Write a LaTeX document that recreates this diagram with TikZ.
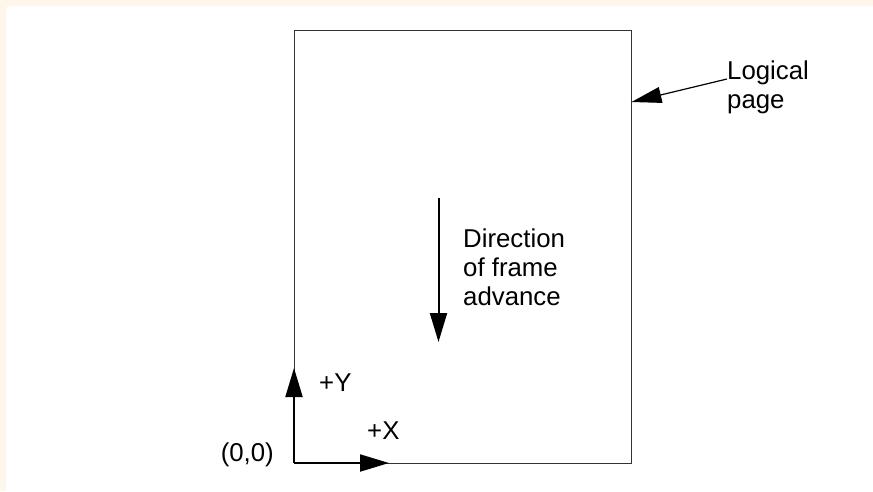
\documentclass[tikz,border=0pt]{standalone}
\usepackage{fontspec}
\setmainfont{Liberation Sans}
\usepackage{xcolor}
\usepackage{tikz}
\usetikzlibrary{positioning,arrows.meta,calc}
\definecolor{cream100}{HTML}{FEF6EA}
\definecolor{ink900}{HTML}{000000}
\definecolor{ink700}{HTML}{333333}
\tikzset{
  every node/.style={font=\fontsize{25.8}{28.8}\selectfont},
  pagebox/.style={
    rectangle, draw=ink700, line width=0.9pt,
    minimum width=337pt, minimum height=433pt,
    inner sep=0pt, outer sep=0pt
  },
  caption/.style={
    inner sep=0pt, align=left, text=ink900
  },
  axis/.style={
    -{Triangle[length=29pt,width=17pt]},
    line width=2pt, draw=ink900
  },
  pointer/.style={
    -{Triangle[length=30pt,width=16pt]},
    line width=1.2pt, draw=ink900
  },
}
\begin{document}
\begin{tikzpicture}[x=1pt,y=-1pt]
  \useasboundingbox (0,0) rectangle (873,491);
  \fill[cream100] (0,0) rectangle (873,491);
  \fill[white, rounded corners=3pt] (6,6) rectangle (885,500);
  \node[pagebox] (page) at (462.5,246.5) {};
  \coordinate (origin) at (page.south west);
  \coordinate (ytip) at ($(origin)+(0,-95)$);
  \coordinate (xtip) at ($(origin)+(95,0)$);
  \draw[axis] (origin) -- (ytip);
  \draw[axis] (origin) -- (xtip);
  \node[caption, anchor=base west] (ylabel) at (319,391) {+Y};
  \node[caption, anchor=base west] (xlabel) at (367,439) {+X};
  \node[caption, anchor=base east] (zero) at (274,461) {(0,0)};
  \coordinate (advstart) at (438.5,198);
  \coordinate (advend) at (438.5,342);
  \draw[axis] (advstart) -- (advend);
  \node[caption, anchor=base west] (advance) at (463,305.5) {Direction\\of frame\\advance};
  \node[caption, anchor=base west] (logical) at (727,108) {Logical\\page};
  \coordinate (logicalfoot) at (727,79);
  \coordinate (pageedge) at (631.5,102);
  \draw[pointer] (logicalfoot) -- (pageedge);
\end{tikzpicture}
\end{document}
